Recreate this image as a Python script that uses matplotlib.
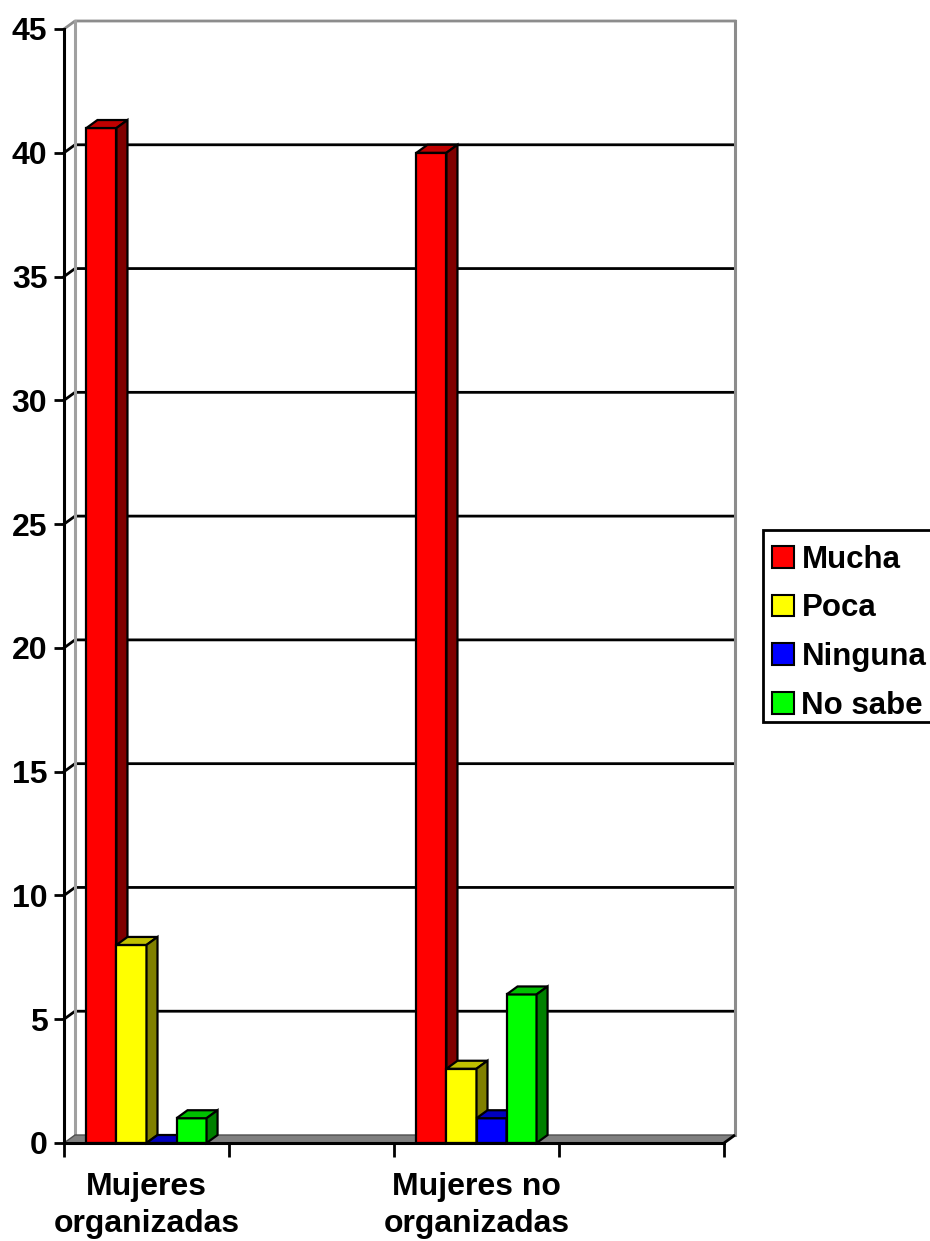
import numpy as np
import matplotlib
matplotlib.use("Agg")
import matplotlib.pyplot as plt
from matplotlib.patches import Polygon, Patch, Rectangle

plt.rcParams["font.family"] = ["Liberation Sans", "DejaVu Sans"]
plt.rcParams["font.weight"] = "bold"

# datos
categories = ["Mujeres\norganizadas", "", "Mujeres no\norganizadas", ""]
series = ["Mucha", "Poca", "Ninguna", "No sabe"]
mucha = [41, np.nan, 40, np.nan]
poca = [8, np.nan, 3, np.nan]
ninguna = [0, np.nan, 1, np.nan]
no_sabe = [1, np.nan, 6, np.nan]
y_ticks = [0, 5, 10, 15, 20, 25, 30, 35, 40, 45]

front_colors = ["#FF0000", "#FFFF00", "#0000FF", "#00FF00"]
top_colors = ["#C00000", "#C0C000", "#0000C0", "#00C000"]
side_colors = ["#800000", "#808000", "#000080", "#008000"]

W, H = 930, 1241
left, right, bottom, top = 64, 724, 1143, 29
fig = plt.figure(figsize=(W / 100, H / 100), dpi=100)
ax = fig.add_axes([left / W, 1 - bottom / H, (right - left) / W, (bottom - top) / H])

n_cat = len(categories)
y_max = y_ticks[-1]
ax.set_xlim(0, n_cat)
ax.set_ylim(0, y_max)

# profundidad 3D en unidades de datos
DX = 11 / ((right - left) / n_cat)
DY = 8 / ((bottom - top) / y_max)

grey = "#8C8C8C"
# suelo
ax.add_patch(Polygon([(0, 0), (n_cat, 0), (n_cat + DX, DY), (DX, DY)],
                     closed=True, facecolor="#808080", edgecolor="#505050", linewidth=1,
                     zorder=2, clip_on=False))
ax.plot([n_cat, n_cat + DX], [0, DY], color="black", lw=2, zorder=2, clip_on=False,
        solid_capstyle="butt")

# lineas de la pared del fondo
for v in y_ticks[1:]:
    c = grey if v == y_max else "black"
    ax.plot([0, DX, n_cat + DX], [v, v + DY, v + DY], color=c, lw=2, zorder=1, clip_on=False)
ax.plot([DX, DX], [DY, y_max + DY], color="#A0A0A0", lw=2.2, zorder=1, clip_on=False)
ax.plot([n_cat + DX, n_cat + DX], [DY, y_max + DY], color=grey, lw=2.2, zorder=1, clip_on=False)

# barras
values = [mucha, poca, ninguna, no_sabe]
bw = 0.182
for i in range(n_cat):
    for j, vals in enumerate(values):
        h = vals[i]
        if np.isnan(h):
            continue
        x0 = i + 0.5 - 2 * bw + j * bw
        z = 3 + j
        ax.bar(x0, h, width=bw, align="edge", color=front_colors[j],
               edgecolor="black", linewidth=1.6, zorder=z, clip_on=False)
        ax.add_patch(Polygon([(x0, h), (x0 + bw, h), (x0 + bw + DX, h + DY), (x0 + DX, h + DY)],
                             closed=True, facecolor=top_colors[j], edgecolor="black",
                             linewidth=1.6, zorder=z, clip_on=False))
        ax.add_patch(Polygon([(x0 + bw, 0), (x0 + bw, h), (x0 + bw + DX, h + DY), (x0 + bw + DX, DY)],
                             closed=True, facecolor=side_colors[j], edgecolor="black",
                             linewidth=1.6, zorder=z, clip_on=False))

# ejes
for s in ["top", "right"]:
    ax.spines[s].set_visible(False)
for s in ["left", "bottom"]:
    ax.spines[s].set_linewidth(2.2)
    ax.spines[s].set_zorder(10)
ax.set_facecolor("none")

ax.set_yticks(y_ticks)
ax.set_yticklabels([str(v) for v in y_ticks])
ax.tick_params(axis="y", direction="out", length=7, width=2, labelsize=23, pad=5)

ax.set_xticks(np.arange(n_cat + 1), minor=True)
ax.set_xticks(np.arange(n_cat) + 0.5)
ax.set_xticklabels(categories, linespacing=1.3)
ax.tick_params(axis="x", which="minor", direction="out", length=10, width=2)
ax.tick_params(axis="x", which="major", length=0, labelsize=23, pad=21)

# leyenda (marco aparte, se sale por la derecha como en el original)
fig.patches.append(Rectangle((763 / W, 1 - 722 / H), 200 / W, 192 / H, transform=fig.transFigure,
                             facecolor="white", edgecolor="black", linewidth=2, zorder=0))
handles = [Patch(facecolor=c, edgecolor="black", linewidth=1.5) for c in front_colors]
leg = fig.legend(handles, series, loc="upper left", bbox_to_anchor=(763 / W, 1 - 536 / H),
                 fontsize=22.5, frameon=False, borderaxespad=0, borderpad=0.28,
                 handlelength=0.7, handleheight=0.7, handletextpad=0.25, labelspacing=0.6)

fig.savefig("out.png", dpi=100)
